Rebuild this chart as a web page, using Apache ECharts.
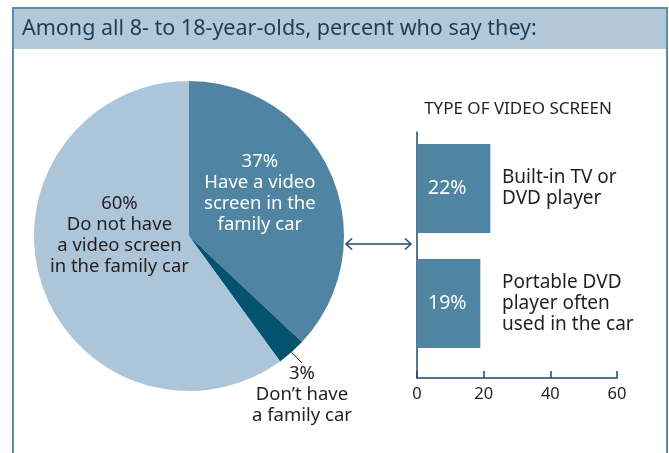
<!DOCTYPE html>
<html>
<head>
<meta charset="utf-8">
<script src="https://cdn.jsdelivr.net/npm/echarts@6/dist/echarts.min.js"></script>
<style>
html,body{margin:0;padding:0;background:#fff;}
#chart{width:669px;height:453px;}
</style>
</head>
<body>
<div id="chart"></div>
<script>
// ---- data ----
const pieNames = ['Have a video\nscreen in the\nfamily car', 'Don\u2019t have\na family car', 'Do not have\na video screen\nin the family car'];
const pieValues = [37, 3, 60];
const barCategories = ['Built-in TV or\nDVD player', 'Portable DVD\nplayer often\nused in the car'];
const barValues = [22, 19];
const axisTicks = [0, 20, 40, 60];
const titleText = 'Among all 8- to 18-year-olds, percent who say they:';
const barTitle = 'TYPE OF VIDEO SCREEN';

const FONT = 'Noto Sans';
const TXT = '#231f20';
const C_MID = '#4f84a3', C_DARK = '#03526f', C_LIGHT = '#adc5d8';
const NAVY = '#1d4a68';
const BORDER = '#5b8db1';

const chart = echarts.init(document.getElementById('chart'), null, {renderer: 'canvas'});

const pieColors = [C_MID, C_DARK, C_LIGHT];
const pieLabelColors = ['#ffffff', TXT, TXT];

const option = {
  animation: false,
  textStyle: {fontFamily: FONT},
  graphic: [
    {type: 'rect', shape: {x: 13, y: 8, width: 654, height: 41}, style: {fill: '#b3c9da'}, z: 0},
    {type: 'rect', shape: {x: 13, y: 8, width: 654, height: 470}, style: {fill: null, stroke: BORDER, lineWidth: 2}, z: 1},
    {type: 'text', x: 22, y: 29, style: {text: titleText, font: '21.5px "Noto Sans"', fill: '#1b3d58', textVerticalAlign: 'middle'}, z: 2},
    {type: 'text', x: 518, y: 109, style: {text: barTitle, font: '17px "Noto Sans"', fill: TXT, textAlign: 'center', textVerticalAlign: 'middle'}, z: 2},
    {type: 'polyline', shape: {points: [[346, 244], [411, 244]]}, style: {stroke: NAVY, lineWidth: 1.5, fill: null}, z: 2},
    {type: 'polyline', shape: {points: [[352, 238.5], [346, 244], [352, 249.5]]}, style: {stroke: NAVY, lineWidth: 1.5, fill: null}, z: 2},
    {type: 'polyline', shape: {points: [[405, 238.5], [411, 244], [405, 249.5]]}, style: {stroke: NAVY, lineWidth: 1.5, fill: null}, z: 2}
  ],
  grid: [
    {left: 417, top: 132, width: 200, height: 246},
    {left: 417, top: 131, width: 200, height: 230}
  ],
  xAxis: [
    {gridIndex: 0, type: 'value', min: 0, max: 60, interval: 20,
     axisLine: {show: true, lineStyle: {color: NAVY, width: 1.5}},
     axisTick: {show: true, inside: true, length: 7, lineStyle: {color: NAVY, width: 1.5}},
     axisLabel: {color: TXT, fontSize: 16.5, margin: 8, fontFamily: FONT,
                 formatter: v => axisTicks.includes(v) ? String(v) : ''},
     splitLine: {show: false}},
    {gridIndex: 1, type: 'value', min: 0, max: 60, show: false}
  ],
  yAxis: [
    {gridIndex: 0, type: 'value', min: 0, max: 1,
     axisLine: {show: true, lineStyle: {color: NAVY, width: 1.5}},
     axisTick: {show: false}, axisLabel: {show: false}, splitLine: {show: false}},
    {gridIndex: 1, type: 'category', data: barCategories, inverse: true, position: 'right', offset: -115,
     axisLine: {show: false}, axisTick: {show: false}, splitLine: {show: false},
     axisLabel: {color: TXT, fontSize: 19, lineHeight: 21, margin: 0, align: 'left', fontFamily: FONT}}
  ],
  series: [
    {
      type: 'pie', center: [189, 236], radius: 155, startAngle: 90, clockwise: true,
      avoidLabelOverlap: false,
      data: pieValues.map((v, i) => ({
        value: v, name: pieNames[i],
        itemStyle: {color: pieColors[i]},
        label: {color: pieLabelColors[i], position: i === 1 ? 'outside' : 'inside'},
        labelLine: {show: i === 1, length: 8, length2: 0, lineStyle: {color: TXT, width: 1}}
      })),
      label: {formatter: '{c}%\n{b}', fontSize: 18.5, lineHeight: 21, fontFamily: FONT, align: 'center'},
      itemStyle: {borderWidth: 0},
      labelLayout: function (p) {
        if (p.dataIndex === 0) return {dx: -3, dy: -11};
        if (p.dataIndex === 2) return {dx: 7, dy: -26};
        return {x: 302, y: 363, align: 'center', verticalAlign: 'top'};
      }
    },
    {
      type: 'bar', xAxisIndex: 1, yAxisIndex: 1, data: barValues, barWidth: 89,
      itemStyle: {color: C_MID},
      label: {show: true, position: 'insideLeft', distance: 11, color: '#ffffff', fontSize: 19.5, fontFamily: FONT, formatter: '{c}%'}
    }
  ]
};
chart.setOption(option);
</script>
</body>
</html>
